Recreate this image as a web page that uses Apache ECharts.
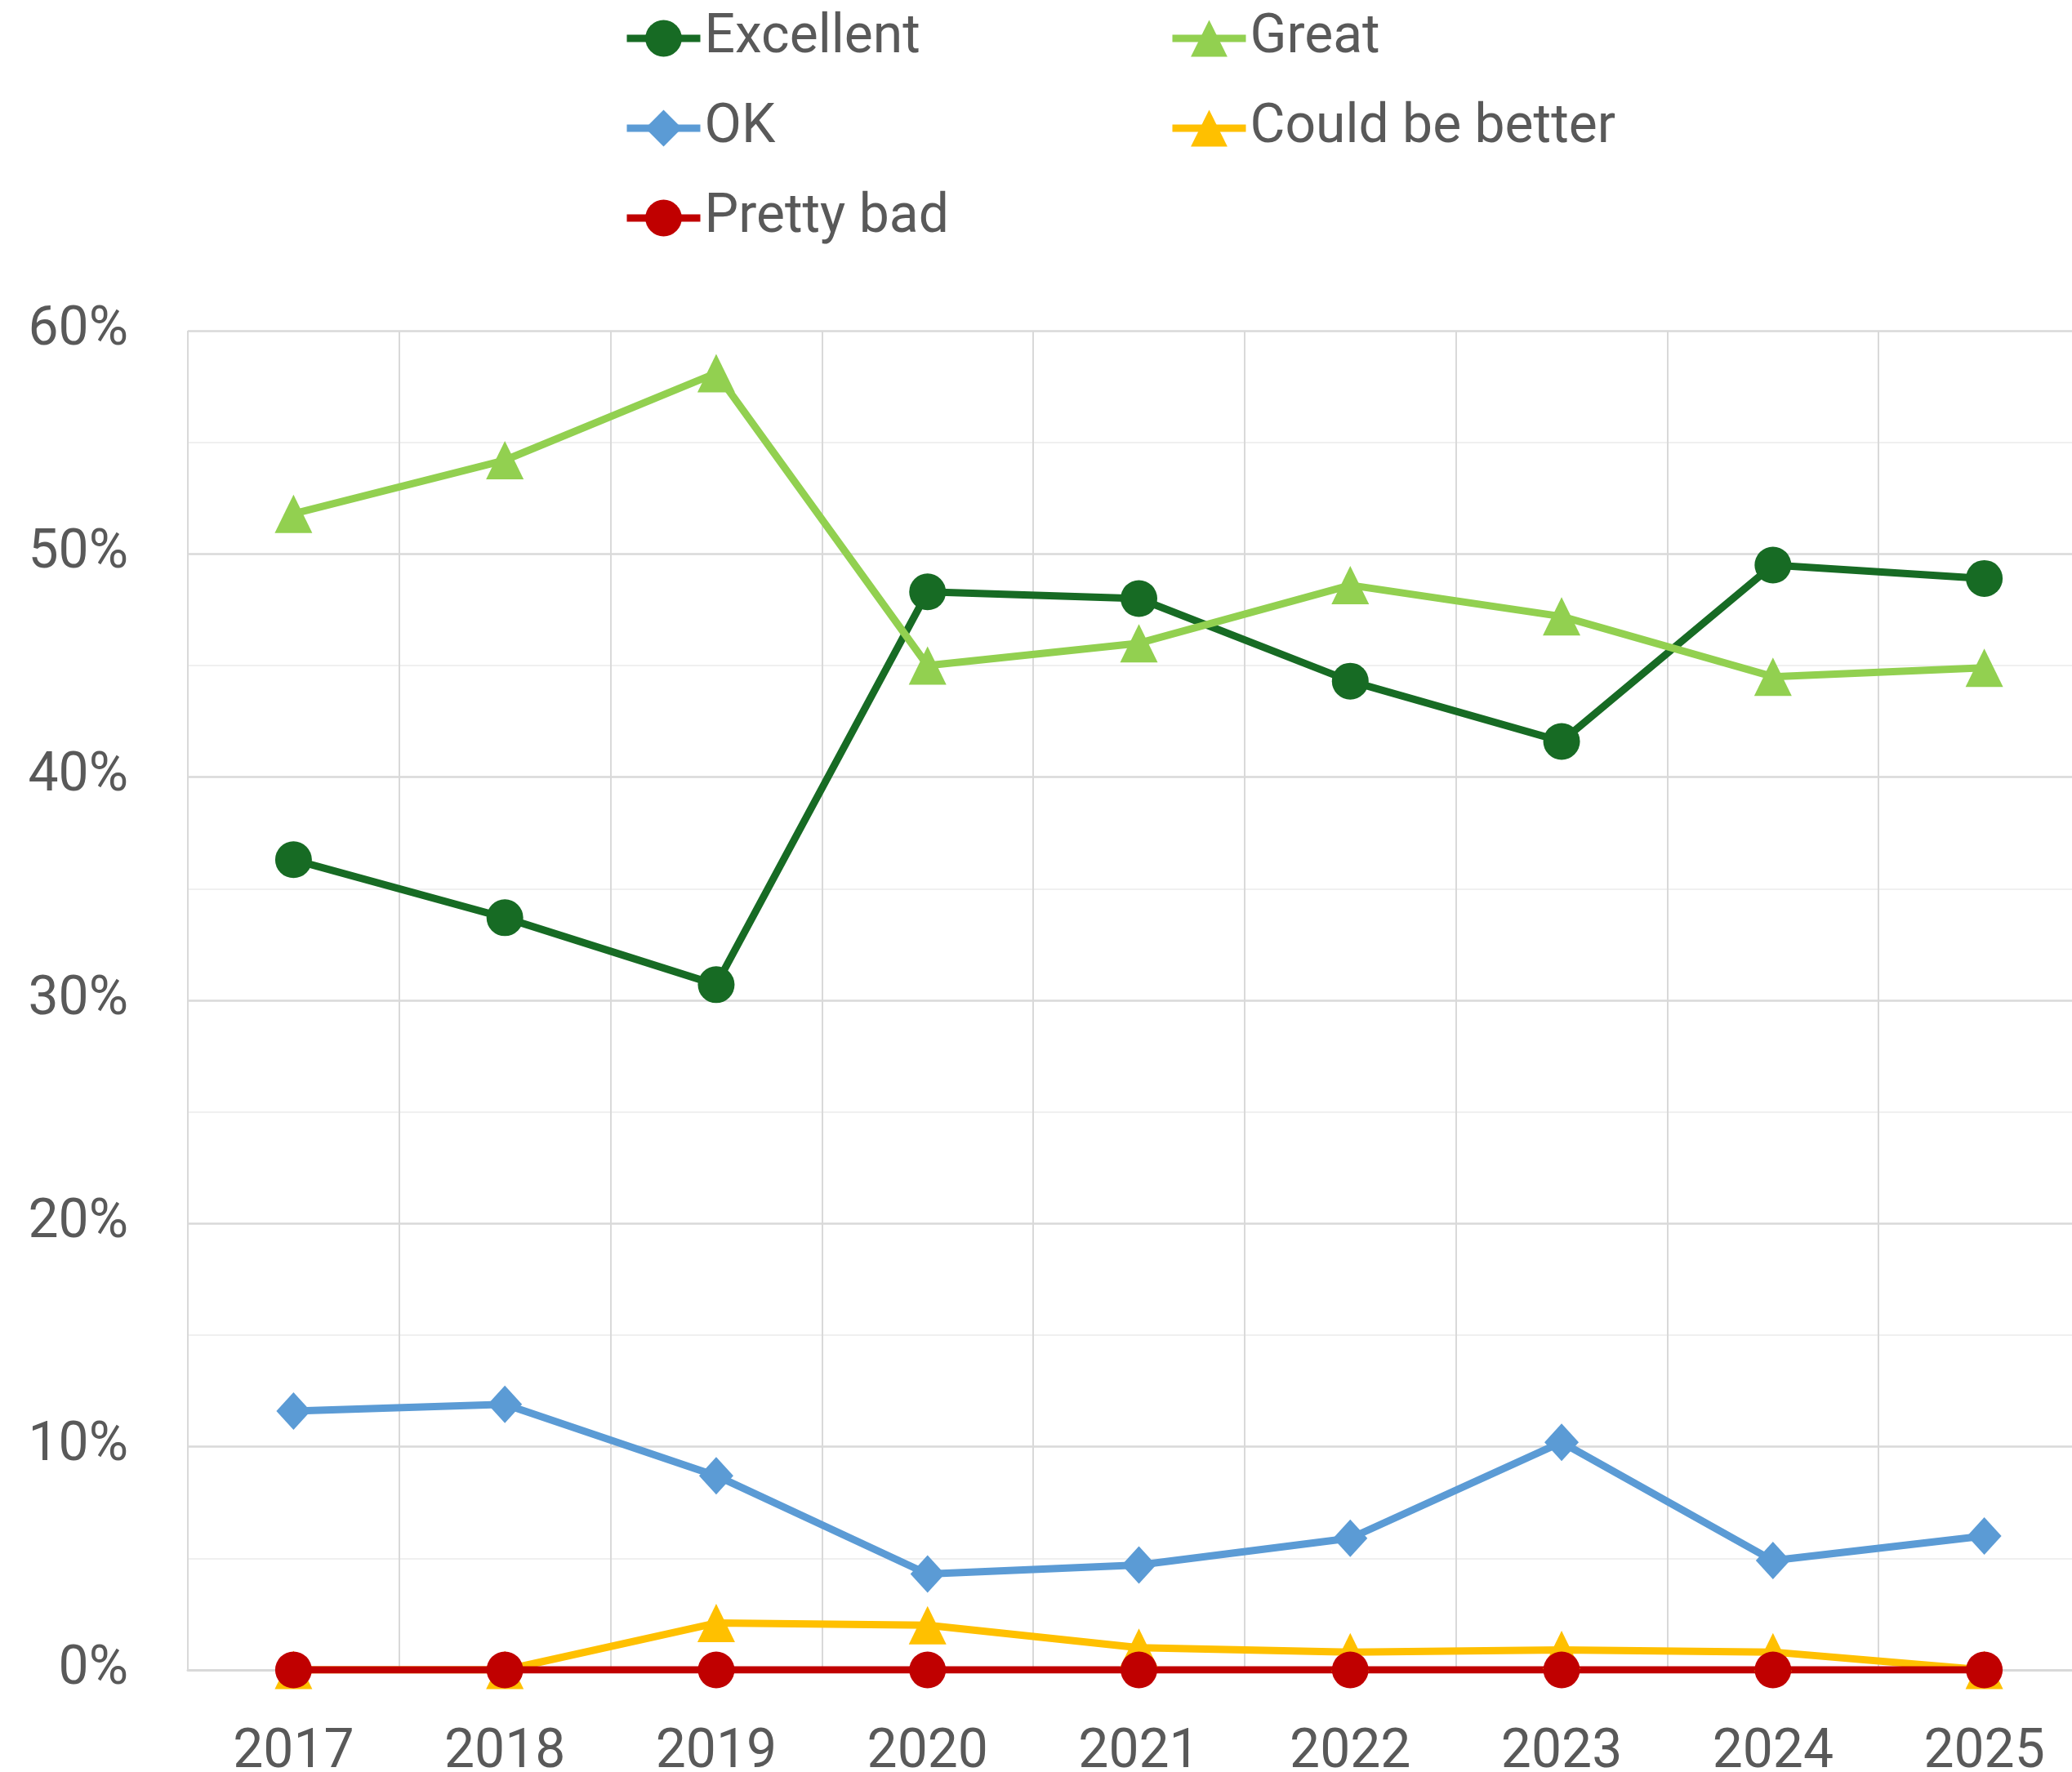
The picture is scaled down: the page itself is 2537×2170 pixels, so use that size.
<!DOCTYPE html>
<html>
<head>
<meta charset="utf-8">
<script src="https://cdn.jsdelivr.net/npm/echarts@6/dist/echarts.min.js"></script>
<style>html,body{margin:0;padding:0;background:#fff}#c{width:2537px;height:2170px}</style>
</head>
<body>
<div id="c"></div>
<script>
const years = ['2017','2018','2019','2020','2021','2022','2023','2024','2025'];
const excellent = [0.363, 0.337, 0.307, 0.483, 0.480, 0.443, 0.416, 0.495, 0.489];
const great = [0.518, 0.542, 0.581, 0.450, 0.460, 0.486, 0.472, 0.445, 0.449];
const ok = [0.116, 0.119, 0.087, 0.043, 0.047, 0.059, 0.102, 0.049, 0.060];
const couldBeBetter = [0.000, 0.000, 0.021, 0.020, 0.010, 0.008, 0.009, 0.008, 0.000];
const prettyBad = [0, 0, 0, 0, 0, 0, 0, 0, 0];
const yTicks = [0, 0.1, 0.2, 0.3, 0.4, 0.5, 0.6];

const FONT = 'Roboto';
const TXT = '#595959';

function mk(name, data, color, symbol, size) {
  return {
    name, type: 'line', data,
    symbol, symbolSize: size,
    lineStyle: { color, width: 9 },
    itemStyle: { color },
    z: 3
  };
}

const legendBase = {
  orient: 'vertical', top: 9, itemGap: 44,
  itemWidth: 90, itemHeight: 56,
  lineStyle: { width: 9 },
  textStyle: { fontFamily: FONT, fontSize: 66, color: TXT, lineHeight: 66 }
};

const chart = echarts.init(document.getElementById('c'), null, { renderer: 'canvas' });
chart.setOption({
  animation: false,
  backgroundColor: '#fff',
  textStyle: { fontFamily: FONT },
  legend: [
    Object.assign({}, legendBase, { left: 758, data: ['Excellent', 'OK', 'Pretty bad'] }),
    Object.assign({}, legendBase, { left: 1426, data: ['Great', 'Could be better'] })
  ],
  grid: { left: 230, top: 405, right: -22, bottom: 125, containLabel: false, outerBoundsMode: 'none' },
  xAxis: {
    type: 'category', data: years, boundaryGap: true,
    axisLine: { show: true, lineStyle: { color: '#d9d9d9', width: 3 } },
    axisTick: { show: false },
    axisLabel: { fontFamily: FONT, fontSize: 66, color: TXT, margin: 69 },
    splitLine: { show: true, lineStyle: { color: '#d9d9d9', width: 2 } }
  },
  yAxis: {
    type: 'value', min: yTicks[0], max: yTicks[yTicks.length - 1], interval: 0.1,
    axisLine: { show: false }, axisTick: { show: false },
    axisLabel: {
      fontFamily: FONT, fontSize: 66, color: TXT, margin: 73,
      formatter: v => Math.round(v * 100) + '%'
    },
    splitLine: { show: true, lineStyle: { color: '#d9d9d9', width: 2.5 } },
    minorTick: { show: false, splitNumber: 2 },
    minorSplitLine: { show: true, lineStyle: { color: '#f0f0f0', width: 2 } }
  },
  series: [
    mk('Excellent', excellent, '#176b24', 'circle', 45),
    mk('Great', great, '#92d050', 'triangle', [46, 47]),
    mk('OK', ok, '#5b9bd5', 'diamond', [42, 46]),
    mk('Could be better', couldBeBetter, '#ffc000', 'triangle', [46, 47]),
    mk('Pretty bad', prettyBad, '#c00000', 'circle', 45)
  ]
});
</script>
</body>
</html>
